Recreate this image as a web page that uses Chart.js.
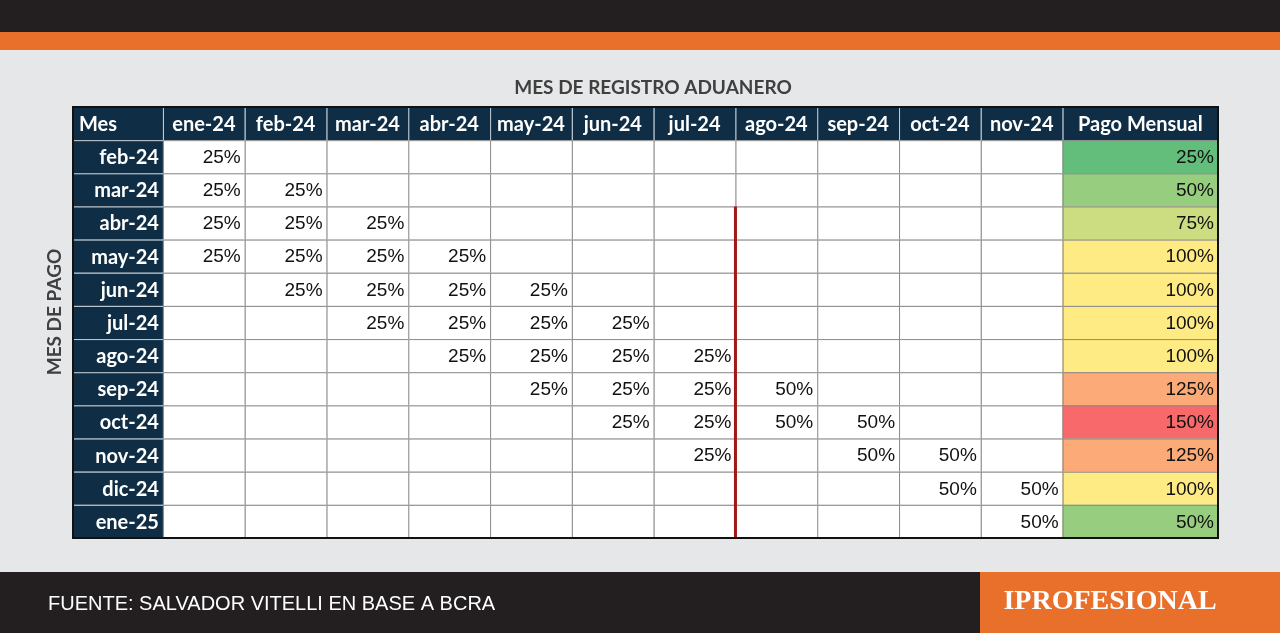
<!DOCTYPE html>
<html><head><meta charset="utf-8">
<script src="https://cdn.jsdelivr.net/npm/chart.js@4/dist/chart.umd.min.js"></script>
<style>html,body{margin:0;padding:0;background:#e6e7e8}canvas{display:block}</style>
</head><body>
<canvas id="tabla" width="1280" height="633"></canvas>
<script>
const regMonths = ['ene-24','feb-24','mar-24','abr-24','may-24','jun-24','jul-24','ago-24','sep-24','oct-24','nov-24'];
const payMonths = ['feb-24','mar-24','abr-24','may-24','jun-24','jul-24','ago-24','sep-24','oct-24','nov-24','dic-24','ene-25'];
// percentage paid in each pay month (row) for each registration month (column)
const shares = [
  [25,null,null,null,null,null,null,null,null,null,null],
  [25,25,null,null,null,null,null,null,null,null,null],
  [25,25,25,null,null,null,null,null,null,null,null],
  [25,25,25,25,null,null,null,null,null,null,null],
  [null,25,25,25,25,null,null,null,null,null,null],
  [null,null,25,25,25,25,null,null,null,null,null],
  [null,null,null,25,25,25,25,null,null,null,null],
  [null,null,null,null,25,25,25,50,null,null,null],
  [null,null,null,null,null,25,25,50,50,null,null],
  [null,null,null,null,null,null,25,null,50,50,null],
  [null,null,null,null,null,null,null,null,null,50,50],
  [null,null,null,null,null,null,null,null,null,null,50]
];
const monthlyPay = [25,50,75,100,100,100,100,125,150,125,100,50];

// column edges in x units: Mes, 11 months, Pago Mensual
const colEdges = [0,1.1];
regMonths.forEach((m,i)=>colEdges.push(2.1+i));
colEdges.push(14);
const headers = ['Mes'].concat(regMonths, ['Pago Mensual']);

function scaleColor(v){
  const g=[99,190,123], y=[255,235,132], r=[248,105,107];
  const lerp=(a,b,t)=>a.map((c,i)=>Math.round(c+(b[i]-c)*t));
  let c = v<=100 ? lerp(g,y,(v-25)/75) : lerp(y,r,(v-100)/50);
  return 'rgb('+c.join(',')+')';
}

const tablePlugin = {
  id:'tabla',
  beforeDraw(chart){
    const ctx=chart.ctx;
    ctx.save();
    ctx.fillStyle='#e6e7e8';ctx.fillRect(0,0,1280,633);
    ctx.fillStyle='#231f20';ctx.fillRect(0,0,1280,32);
    ctx.fillStyle='#e8702a';ctx.fillRect(0,32,1280,18);
    ctx.fillStyle='#231f20';ctx.fillRect(0,572,1280,61);
    ctx.fillStyle='#e8702a';ctx.fillRect(980,572,300,61);
    ctx.fillStyle='#fff';ctx.textBaseline='middle';
    ctx.font='20px "Liberation Sans"';ctx.textAlign='left';
    ctx.fillText('FUENTE: SALVADOR VITELLI EN BASE A BCRA',48,604);
    ctx.font='bold 28px "Liberation Serif"';ctx.textAlign='center';
    ctx.fillText('IPROFESIONAL',1110,602);
    ctx.fillStyle='#404040';ctx.font='bold 19px Lato';
    ctx.fillText('MES DE REGISTRO ADUANERO',653,88);
    ctx.translate(55,312);ctx.rotate(-Math.PI/2);
    ctx.fillText('MES DE PAGO',0,0);
    ctx.restore();
  },
  afterDatasetsDraw(chart){
    const ctx=chart.ctx, x=chart.scales.x, y=chart.scales.y;
    const X=v=>x.getPixelForValue(v), Y=v=>y.getPixelForValue(v);
    ctx.save();
    ctx.textBaseline='middle';
    const nRows=payMonths.length+1;
    for(let r=0;r<nRows;r++){
      for(let c=0;c<headers.length;c++){
        const x0=X(colEdges[c]), x1=X(colEdges[c+1]), y0=Y(r), y1=Y(r+1);
        let fill='#ffffff';
        if(r===0||c===0) fill='#0f2e45';
        else if(c===headers.length-1) fill=scaleColor(monthlyPay[r-1]);
        ctx.fillStyle=fill;ctx.fillRect(x0,y0,x1-x0,y1-y0);
        ctx.strokeStyle= (r===0||c===0)?'#c8d0d6':'#8a8a8a';ctx.lineWidth=1;
        ctx.strokeRect(x0+0.5,y0+0.5,x1-x0,y1-y0);
        let txt=null;
        if(r===0){ txt=headers[c]; ctx.fillStyle='#fff'; ctx.font='bold 20px Lato';
          ctx.textAlign= c===0?'left':'center';
          ctx.fillText(txt, c===0?x0+6:(x0+x1)/2, (y0+y1)/2+1); continue; }
        if(c===0){ ctx.fillStyle='#fff'; ctx.font='bold 20px Lato'; ctx.textAlign='right';
          ctx.fillText(payMonths[r-1],x1-4,(y0+y1)/2+1); continue; }
        const v = c===headers.length-1 ? monthlyPay[r-1] : shares[r-1][c-1];
        if(v!=null){ ctx.fillStyle='#111'; ctx.font='19px "Liberation Sans"'; ctx.textAlign='right';
          ctx.fillText(v+'%',x1-4,(y0+y1)/2+1); }
      }
    }
    // red separator between jul-24 and ago-24
    ctx.strokeStyle='#a01818';ctx.lineWidth=3;
    ctx.beginPath();ctx.moveTo(X(colEdges[8]),Y(3));ctx.lineTo(X(colEdges[8]),Y(nRows));ctx.stroke();
    ctx.strokeStyle='#111';ctx.lineWidth=2;
    ctx.strokeRect(X(0),Y(0),X(14)-X(0),Y(nRows)-Y(0));
    ctx.restore();
  }
};

new Chart(document.getElementById('tabla'),{
  type:'scatter',
  data:{datasets:[{data:[],pointRadius:0}]},
  options:{
    responsive:false,animation:false,
    layout:{padding:{left:73,right:62,top:107,bottom:95}},
    plugins:{legend:{display:false},tooltip:{enabled:false}},
    scales:{
      x:{type:'linear',min:0,max:14,display:false},
      y:{type:'linear',min:0,max:13,reverse:true,display:false}
    }
  },
  plugins:[tablePlugin]
});
</script>
</body></html>
